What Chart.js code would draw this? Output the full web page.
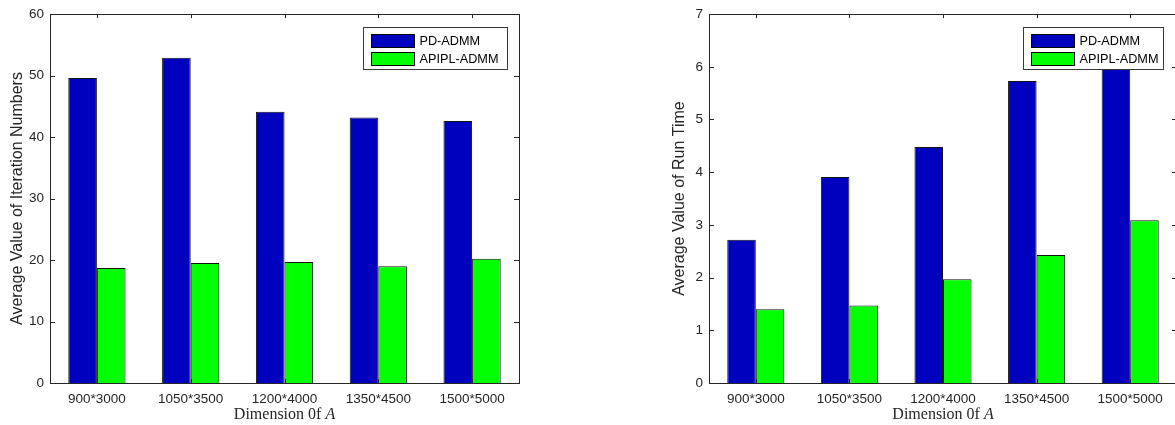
<!DOCTYPE html>
<html>
<head>
<meta charset="utf-8">
<title>PD-ADMM vs APIPL-ADMM</title>
<script src="https://cdn.jsdelivr.net/npm/chart.js@4.4.1/dist/chart.umd.min.js"></script>
<style>
    html, body { margin: 0; padding: 0; background: #fff; overflow: hidden; width: 1175px; height: 425px; }
    .panel { position: absolute; top: 0; height: 425px; }
    #left-panel { left: 0; width: 560px; }
    #right-panel { left: 600px; width: 580px; }
</style>
</head>
<body>
<div class="panel" id="left-panel"><canvas id="iterChart"></canvas></div>
<div class="panel" id="right-panel"><canvas id="timeChart"></canvas></div>
<script>
// Problem sizes (dimension of A)
const categories = ['900*3000', '1050*3500', '1200*4000', '1350*4500', '1500*5000'];
const seriesNames = ['PD-ADMM', 'APIPL-ADMM'];

// Average iteration numbers
const iterPD = [49.6, 52.9, 44.1, 43.2, 42.6];
const iterAPIPL = [18.7, 19.5, 19.7, 19.0, 20.2];

// Average run time
const timePD = [2.72, 3.91, 4.48, 5.73, 6.0];
const timeAPIPL = [1.40, 1.47, 1.97, 2.43, 3.09];

const colors = ['rgb(0, 0, 191)', 'rgb(0, 255, 0)'];
const axisColor = '#262626';
const sansFont = '"Liberation Sans", Arial, Helvetica, sans-serif';
const serifFont = '"Liberation Serif", "Times New Roman", serif';

// MATLAB-style box with inward ticks
const framePlugin = {
    id: 'frame',
    afterDatasetsDraw(chart) {
        const { ctx, chartArea: a, scales: { x, y } } = chart;
        ctx.save();
        ctx.strokeStyle = axisColor;
        ctx.lineWidth = 1;
        ctx.beginPath();
        y.ticks.forEach((t, i) => {
            const py = Math.round(y.getPixelForTick(i)) + 0.5;
            ctx.moveTo(a.left, py); ctx.lineTo(a.left + 5, py);
            ctx.moveTo(a.right, py); ctx.lineTo(a.right - 5, py);
        });
        x.ticks.forEach((t, i) => {
            const px = Math.round(x.getPixelForTick(i)) + 0.5;
            ctx.moveTo(px, a.top); ctx.lineTo(px, a.top + 4);
            ctx.moveTo(px, a.bottom); ctx.lineTo(px, a.bottom - 4);
        });
        ctx.stroke();
        ctx.strokeRect(Math.round(a.left) + 0.5, Math.round(a.top) + 0.5,
                       Math.round(a.right - a.left), Math.round(a.bottom - a.top));
        ctx.restore();
    }
};

// Axis titles and the in-plot legend
const decorPlugin = {
    id: 'decor',
    afterDraw(chart, args, opts) {
        const { ctx, chartArea: a } = chart;

        // y title
        ctx.save();
        ctx.translate(a.left - opts.yTitleOffset, (a.top + a.bottom) / 2);
        ctx.rotate(-Math.PI / 2);
        ctx.font = '16px ' + sansFont;
        ctx.fillStyle = axisColor;
        ctx.textAlign = 'center';
        ctx.textBaseline = 'middle';
        ctx.fillText(opts.yTitle, 0, 0);
        ctx.restore();

        // x title: "Dimension 0f A" with italic A
        ctx.save();
        ctx.fillStyle = axisColor;
        ctx.textBaseline = 'middle';
        ctx.textAlign = 'left';
        const part1 = 'Dimension 0f ';
        ctx.font = '16px ' + serifFont;
        const w1 = ctx.measureText(part1).width;
        ctx.font = 'italic 16px ' + serifFont;
        const w2 = ctx.measureText('A').width;
        let tx = (a.left + a.right) / 2 - (w1 + w2) / 2;
        ctx.font = '16px ' + serifFont;
        ctx.fillText(part1, tx, 415);
        ctx.font = 'italic 16px ' + serifFont;
        ctx.fillText('A', tx + w1, 415);
        ctx.restore();

        // legend box
        const w = opts.legendWidth, h = 42;
        const lx = Math.round(a.right - opts.legendRight - w) + 0.5;
        const ly = Math.round(a.top + 13) + 0.5;
        ctx.save();
        ctx.fillStyle = '#fff';
        ctx.fillRect(lx, ly, w, h);
        ctx.strokeStyle = '#3a3a3a';
        ctx.lineWidth = 1;
        ctx.strokeRect(lx, ly, w, h);
        ctx.font = '12.7px ' + sansFont;
        ctx.textBaseline = 'middle';
        ctx.textAlign = 'left';
        seriesNames.forEach((name, i) => {
            const sy = ly + 7 + i * 18;
            ctx.fillStyle = colors[i];
            ctx.fillRect(lx + 8, sy, 43, 13);
            ctx.strokeStyle = '#000';
            ctx.strokeRect(lx + 8, sy, 43, 13);
            ctx.fillStyle = '#000';
            ctx.fillText(name, lx + 56, sy + 7);
        });
        ctx.restore();
    }
};

function makeChart(canvasId, pdData, apiplData, yMax, cfg) {
    const ctx = document.getElementById(canvasId).getContext('2d');
    return new Chart(ctx, {
        type: 'bar',
        data: {
            labels: categories,
            datasets: [
                {
                    label: seriesNames[0],
                    data: pdData,
                    backgroundColor: colors[0],
                    borderColor: '#111',
                    borderWidth: 1
                },
                {
                    label: seriesNames[1],
                    data: apiplData,
                    backgroundColor: colors[1],
                    borderColor: '#111',
                    borderWidth: 1
                }
            ]
        },
        options: {
            responsive: true,
            maintainAspectRatio: false,
            animation: false,
            layout: {
                padding: { left: 0, top: 13, right: cfg.padRight, bottom: 0 }
            },
            datasets: {
                bar: { categoryPercentage: 0.61, barPercentage: 1.0 }
            },
            scales: {
                x: {
                    grid: { display: false, drawTicks: false },
                    border: { display: false },
                    ticks: {
                        color: axisColor,
                        padding: 8,
                        maxRotation: 0,
                        font: { family: sansFont, size: 13.5 }
                    },
                    afterFit: s => { s.height = 42; }
                },
                y: {
                    min: 0,
                    max: yMax,
                    grid: { display: false, drawTicks: false },
                    border: { display: false },
                    ticks: {
                        stepSize: 1 * (yMax > 10 ? 10 : 1),
                        color: axisColor,
                        padding: 6,
                        font: { family: sansFont, size: 13.5 }
                    },
                    afterFit: s => { s.width = cfg.yWidth; }
                }
            },
            plugins: {
                legend: { display: false },
                tooltip: { enabled: false },
                decor: {
                    yTitle: cfg.yTitle,
                    yTitleOffset: cfg.yTitleOffset,
                    legendWidth: cfg.legendWidth,
                    legendRight: cfg.legendRight
                }
            }
        },
        plugins: [framePlugin, decorPlugin]
    });
}

makeChart('iterChart', iterPD, iterAPIPL, 60, {
    padRight: 41, yWidth: 50,
    yTitle: 'Average Value of Iteration Numbers', yTitleOffset: 32,
    legendWidth: 144, legendRight: 12
});

makeChart('timeChart', timePD, timeAPIPL, 7, {
    padRight: 3, yWidth: 109,
    yTitle: 'Average Value of Run Time', yTitleOffset: 29,
    legendWidth: 140, legendRight: 14
});
</script>
</body>
</html>
